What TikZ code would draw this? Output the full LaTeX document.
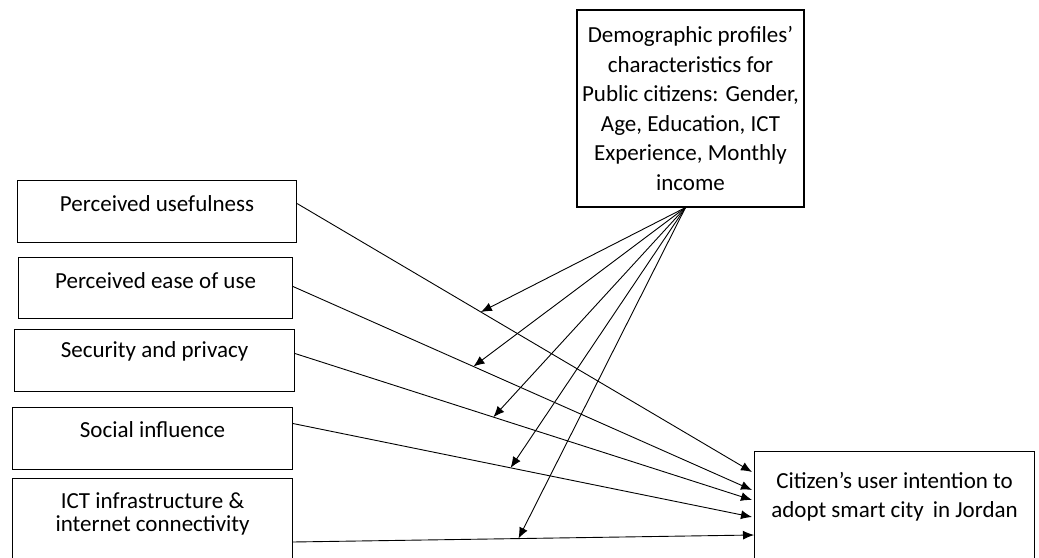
\documentclass[tikz,border=0pt]{standalone}
\usepackage{fontspec}
\setmainfont{Carlito}
\usetikzlibrary{arrows.meta}

\begin{document}
\begin{tikzpicture}[x=1pt,y=1pt,
	box/.style={draw,line width=1.1pt,inner sep=0pt,align=center,font=\fontsize{23}{29.5}\selectfont},
	factor/.style={box,anchor=north west,minimum width=280pt},
	link/.style={-{Latex[length=11pt,width=9pt]},line width=0.9pt}]
	\clip (0,0) rectangle (1039,557);
	
	% moderator and outcome
	\node[box,minimum width=227pt,minimum height=197pt] at (690.5,448.5)(dp){Demographic profiles’\\characteristics for\\Public citizens: Gender,\\Age, Education, ICT\\Experience, Monthly\\income};
	\node[factor,text height=66pt,text depth=120pt,font=\fontsize{23}{29}\selectfont] at (754,106)(ci){Citizen’s user intention to\\adopt smart city\, in Jordan};
	
	% factors
	\node[factor,minimum width=279pt,text height=31pt,text depth=31pt] at (17,377)(pu){Perceived usefulness};
	\node[factor,minimum width=274pt,text height=31pt,text depth=30pt] at (18,300)(peou){Perceived ease of use};
	\node[factor,text height=28pt,text depth=34pt] at (14,228)(sp){Security and privacy};
	\node[factor,text height=30pt,text depth=32pt] at (12,150)(si){Social influence};
	\node[factor,text height=53pt,text depth=80pt,font=\fontsize{23}{23}\selectfont] at (12,79)(ict){ICT infrastructure \&\\internet connectivity};
	
	\coordinate (pu-out) at ([yshift=8pt]pu.east);
	\coordinate (peou-out) at ([yshift=1.5pt]peou.east);
	\coordinate (sp-out) at ([yshift=7pt]sp.east);
	\coordinate (si-out) at ([yshift=15pt]si.east);
	\coordinate (ict-out) at ([yshift=-64pt]ict.north east);
	\coordinate (dp-out) at ([xshift=-5pt]dp.south);
	
	\draw[link](pu-out)--coordinate[pos=0.404](m1)([xshift=-2pt,yshift=-21pt]ci.north west);
	\draw[link](peou-out)--coordinate[pos=0.393](m2)([xshift=-2pt,yshift=-39pt]ci.north west);
	\draw[link](sp-out)--coordinate[pos=0.434](m3)([xshift=-2pt,yshift=-49pt]ci.north west);
	\draw[link](si-out)--coordinate[pos=0.474](m4)([xshift=-2pt,yshift=-66pt]ci.north west);
	\draw[link](ict-out)--coordinate[pos=0.489](m5)([yshift=-84pt]ci.north west);
	
	\foreach \m in {m1,m2,m3,m4,m5}
		\draw[link](dp-out)--(\m);
	
\end{tikzpicture}
\end{document}
